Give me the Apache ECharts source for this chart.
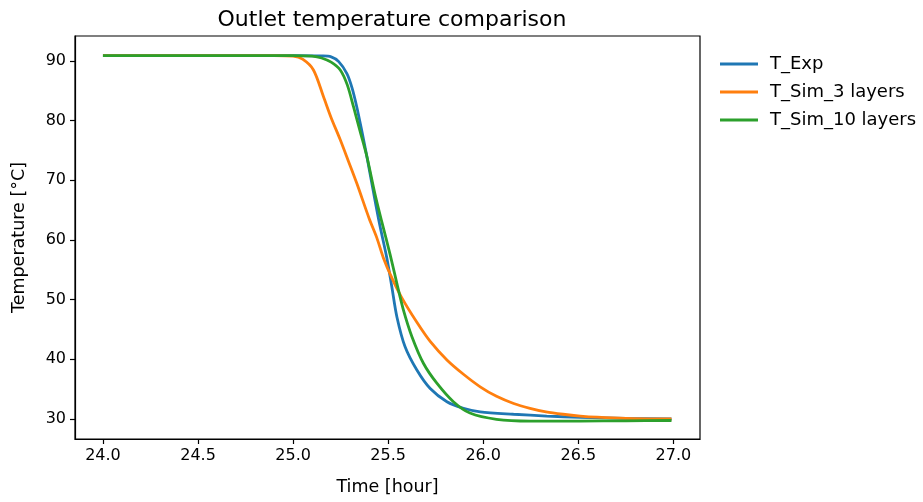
<!DOCTYPE html>
<html>
<head>
<meta charset="utf-8">
<script src="https://cdn.jsdelivr.net/npm/echarts@6/dist/echarts.min.js"></script>
<style>html,body{margin:0;padding:0;background:#fff}#c{width:923px;height:502px}</style>
</head>
<body>
<div id="c"></div>
<script>
const seriesNames = ['T_Exp', 'T_Sim_3 layers', 'T_Sim_10 layers'];
const xTicks = [24.0, 24.5, 25.0, 25.5, 26.0, 26.5, 27.0];
const yTicks = [30, 40, 50, 60, 70, 80, 90];

const tExp = [
  [24.0,90.9],[24.5,90.9],[25.0,90.9],[25.15,90.85],[25.2,90.7],[25.24,89.9],[25.283,87.9],[25.31,85.5],
  [25.335,82.3],[25.36,78.5],[25.388,74.0],[25.42,68.5],[25.454,62.8],[25.493,57.0],[25.519,52.2],
  [25.546,47.1],[25.589,42.1],[25.651,38.2],[25.721,35.1],[25.809,32.9],[25.896,31.8],[25.984,31.2],
  [26.159,30.8],[26.334,30.5],[26.51,30.28],[26.75,30.1],[26.99,30.0]
];
const tSim3 = [
  [24.0,90.9],[24.5,90.9],[24.9,90.9],[25.0,90.8],[25.05,90.3],[25.107,88.5],[25.16,84.0],[25.2,80.5],
  [25.248,76.8],[25.29,73.3],[25.335,69.5],[25.40,63.6],[25.44,60.4],[25.475,57.0],[25.52,53.6],
  [25.572,50.3],[25.651,46.2],[25.721,43.0],[25.809,39.9],[25.896,37.5],[25.984,35.4],[26.07,33.8],
  [26.16,32.6],[26.246,31.8],[26.33,31.2],[26.42,30.8],[26.51,30.5],[26.6,30.3],[26.75,30.1],[26.99,30.0]
];
const tSim10 = [
  [24.0,90.9],[24.5,90.9],[25.0,90.9],[25.1,90.8],[25.15,90.5],[25.2,89.8],[25.248,88.5],[25.285,86.0],
  [25.318,82.3],[25.35,78.5],[25.388,74.0],[25.43,67.8],[25.467,63.0],[25.51,57.6],[25.546,52.7],
  [25.58,48.3],[25.625,43.8],[25.686,39.3],[25.756,36.0],[25.843,32.9],[25.93,31.0],[26.07,29.95],
  [26.246,29.66],[26.51,29.66],[26.75,29.7],[26.99,29.75]
];

const colors = ['#1f77b4', '#ff7f0e', '#2ca02c'];
const font = 'DejaVu Sans';
const chart = echarts.init(document.getElementById('c'), null, {renderer: 'canvas'});
chart.setOption({
  animation: false,
  backgroundColor: '#fff',
  color: colors,
  title: {
    text: 'Outlet temperature comparison',
    left: 387, top: 4, textAlign: 'center',
    textStyle: {fontFamily: font, fontSize: 22, fontWeight: 'normal', color: '#000'}
  },
  legend: {
    orient: 'vertical', left: 715, top: 50,
    icon: 'rect', itemWidth: 38, itemHeight: 3, itemGap: 10,
    textStyle: {fontFamily: font, fontSize: 18, color: '#000', padding: [0,0,0,7]},
    data: seriesNames
  },
  grid: {left: 75, right: 223, top: 36, bottom: 63, show: true, borderColor: '#000', borderWidth: 1.2, containLabel: false},
  xAxis: {
    type: 'value', min: 23.853, max: 27.14,
    name: 'Time [hour]', nameLocation: 'middle', nameGap: 39,
    nameTextStyle: {fontFamily: font, fontSize: 17.5, color: '#000'},
    axisLine: {show: true, onZero: false, lineStyle: {color: '#000', width: 1.2}},
    axisTick: {show: true, length: 5, customValues: xTicks, lineStyle: {color: '#000', width: 1.2}},
    axisLabel: {customValues: xTicks, margin: 9, fontFamily: font, fontSize: 16, color: '#000',
      formatter: v => Number(v).toFixed(1)},
    splitLine: {show: false}
  },
  yAxis: {
    type: 'value', min: 26.65, max: 94.19,
    name: 'Temperature [°C]', nameLocation: 'middle', nameGap: 47,
    nameTextStyle: {fontFamily: font, fontSize: 17.5, color: '#000'},
    axisLine: {show: true, onZero: false, lineStyle: {color: '#000', width: 1.2}},
    axisTick: {show: true, length: 5, customValues: yTicks, lineStyle: {color: '#000', width: 1.2}},
    axisLabel: {customValues: yTicks, margin: 9, fontFamily: font, fontSize: 16, color: '#000'},
    splitLine: {show: false}
  },
  series: [tExp, tSim3, tSim10].map((d, i) => ({
    name: seriesNames[i], type: 'line', data: d, showSymbol: false, symbol: 'none',
    smooth: 0.3,
    lineStyle: {width: 2.8, color: colors[i]}
  }))
});
</script>
</body>
</html>
